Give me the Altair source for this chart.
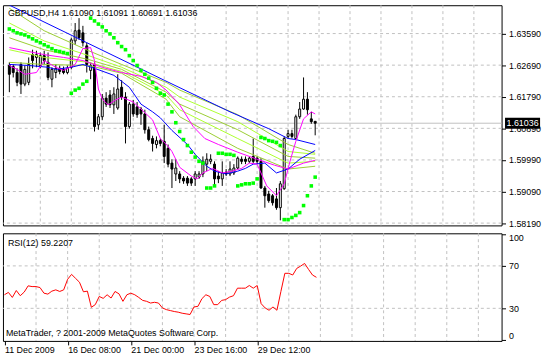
import altair as alt
import pandas as pd

# ---------------- data ----------------
symbol = "GBPUSD,H4"
bars = list(range(80))
opens = [1.6268, 1.6265, 1.6248, 1.6271, 1.6215, 1.6220, 1.6299, 1.6291, 1.6268, 1.6296,
         1.6277, 1.6229, 1.6248, 1.6260, 1.6257, 1.6248, 1.6263, 1.6338, 1.6369, 1.6361,
         1.6324, 1.6254, 1.6271, 1.6099, 1.6122, 1.6175, 1.6184, 1.6156, 1.6147, 1.6206,
         1.6178, 1.6094, 1.6158, 1.6150, 1.6144, 1.6130, 1.6085, 1.6060, 1.6043, 1.6054,
         1.6052, 1.6032, 1.5990, 1.5959, 1.5959, 1.5947, 1.5947, 1.5945, 1.5945, 1.5950,
         1.5959, 1.5987, 1.5995, 1.5987, 1.5953, 1.5945, 1.5964, 1.5959, 1.5962, 1.5976,
         1.6001, 1.6001, 1.5995, 1.6009, 1.6004, 1.5995, 1.5919, 1.5902, 1.5897, 1.5888,
         1.5863, 1.5917, 1.6066, 1.6074, 1.6060, 1.6122, 1.6144, 1.6172, 1.6116, 1.61090]
highs = [1.6277, 1.6271, 1.6260, 1.6277, 1.6268, 1.6291, 1.6313, 1.6310, 1.6305, 1.6310,
         1.6305, 1.6263, 1.6271, 1.6268, 1.6265, 1.6268, 1.6347, 1.6389, 1.6403, 1.6381,
         1.6333, 1.6277, 1.6277, 1.6130, 1.6187, 1.6192, 1.6198, 1.6206, 1.6243, 1.6226,
         1.6192, 1.6164, 1.6170, 1.6164, 1.6150, 1.6142, 1.6094, 1.6068, 1.6066, 1.6060,
         1.6099, 1.6043, 1.6001, 1.6001, 1.5967, 1.5953, 1.5953, 1.5950, 1.5967, 1.5967,
         1.6009, 1.6018, 1.6015, 1.5995, 1.5967, 1.5995, 1.5973, 1.5995, 1.5987, 1.6009,
         1.6009, 1.6009, 1.6009, 1.6060, 1.6009, 1.6004, 1.5925, 1.5911, 1.5902, 1.5919,
         1.5939, 1.6066, 1.6085, 1.6085, 1.6128, 1.6164, 1.6234, 1.6192, 1.6136, 1.61091]
lows = [1.6192, 1.6234, 1.6209, 1.6187, 1.6209, 1.6212, 1.6260, 1.6263, 1.6260, 1.6271,
        1.6226, 1.6206, 1.6232, 1.6243, 1.6243, 1.6243, 1.6257, 1.6327, 1.6341, 1.6322,
        1.6248, 1.6229, 1.6080, 1.6085, 1.6113, 1.6150, 1.6147, 1.6130, 1.6142, 1.6170,
        1.6046, 1.6088, 1.6122, 1.6119, 1.6099, 1.6074, 1.6052, 1.6023, 1.6032, 1.6038,
        1.5990, 1.5978, 1.5919, 1.5939, 1.5933, 1.5931, 1.5925, 1.5925, 1.5925, 1.5945,
        1.5950, 1.5967, 1.5987, 1.5925, 1.5933, 1.5925, 1.5953, 1.5953, 1.5956, 1.5973,
        1.5987, 1.5987, 1.5990, 1.5990, 1.5987, 1.5917, 1.5863, 1.5877, 1.5869, 1.5857,
        1.5827, 1.5914, 1.6060, 1.6060, 1.6057, 1.6116, 1.6142, 1.6128, 1.6102, 1.60691]
closes = [1.6243, 1.6248, 1.6220, 1.6215, 1.6257, 1.6271, 1.6282, 1.6299, 1.6296, 1.6282,
          1.6234, 1.6257, 1.6260, 1.6251, 1.6248, 1.6260, 1.6341, 1.6367, 1.6347, 1.6333,
          1.6271, 1.6268, 1.6094, 1.6122, 1.6175, 1.6158, 1.6156, 1.6187, 1.6201, 1.6178,
          1.6094, 1.6158, 1.6130, 1.6128, 1.6130, 1.6085, 1.6057, 1.6046, 1.6054, 1.6046,
          1.6009, 1.5987, 1.5973, 1.5976, 1.5945, 1.5939, 1.5933, 1.5933, 1.5959, 1.5959,
          1.5995, 1.6001, 1.6001, 1.5945, 1.5945, 1.5962, 1.5959, 1.5973, 1.5976, 1.6004,
          1.5995, 1.5995, 1.6004, 1.5995, 1.5995, 1.5919, 1.5897, 1.5883, 1.5877, 1.5863,
          1.5931, 1.6060, 1.6074, 1.6066, 1.6122, 1.6144, 1.6172, 1.6142, 1.6108, 1.61036]
sar = [1.6372, 1.6367, 1.6361, 1.6358, 1.6355, 1.6350, 1.6344, 1.6338, 1.6333, 1.6327,
       1.6322, 1.6316, 1.6310, 1.6308, 1.6305, 1.6302,
       1.6189, 1.6198, 1.6203, 1.6215, 1.6223,
       1.6403, 1.6395, 1.6386, 1.6378, 1.6367, 1.6358, 1.6347, 1.6333, 1.6322, 1.6313,
       1.6296, 1.6282, 1.6268, 1.6254, 1.6243, 1.6232, 1.6220, 1.6203, 1.6189, 1.6184,
       1.6158, 1.6136, 1.6105, 1.6080, 1.6057, 1.6040, 1.6021, 1.6007, 1.5995, 1.5990,
       1.5919, 1.5919, 1.5925,
       1.6018, 1.6018, 1.6015, 1.6015, 1.6012,
       1.5925, 1.5928, 1.5931, 1.5931, 1.5933, 1.5945,
       1.6063, 1.6060, 1.6054, 1.6052, 1.6049, 1.6040,
       1.5829, 1.5829, 1.5835, 1.5841, 1.5849, 1.5869, 1.5897, 1.5925, 1.5950]
rsi = [42.8, 45.0, 40.3, 46.8, 41.9, 45.3, 51.2, 50.5, 50.5, 49.6,
       44.3, 43.4, 46.2, 47.4, 45.9, 47.4, 57.4, 62.0, 58.3, 54.6,
       45.6, 46.2, 31.0, 33.5, 41.2, 39.4, 42.8, 39.7, 45.9, 43.7,
       36.6, 42.8, 44.3, 42.8, 40.3, 37.5, 36.6, 35.0, 35.7, 35.0,
       30.4, 28.8, 27.9, 27.0, 26.4, 25.4, 24.8, 24.2, 31.3, 31.9,
       39.1, 42.8, 41.2, 33.5, 33.5, 37.5, 38.2, 40.6, 41.9, 49.0,
       49.0, 49.0, 51.5, 49.0, 51.5, 34.4, 30.4, 28.2, 31.3, 28.2,
       45.9, 63.0, 63.0, 61.4, 67.6, 69.8, 72.3, 66.7, 61.4, 59.2207]

blue_slow_bars = [0, 20, 40, 57, 67, 72, 74, 79]
blue_slow = [1.6440, 1.6333, 1.6226, 1.6136, 1.6088, 1.6060, 1.6057, 1.6043]
blue_fast_bars = [0, 5, 10, 12, 16, 19, 22, 27, 31, 34, 37, 39, 42, 46, 48, 51, 53, 56,
                  59, 61, 63, 66, 69, 72, 75, 79]
blue_fast = [1.6271, 1.6268, 1.6263, 1.6257, 1.6263, 1.6271, 1.6260, 1.6240, 1.6206, 1.6158,
             1.6136, 1.6119, 1.6083, 1.6043, 1.6015, 1.5981, 1.5967, 1.5959, 1.5967, 1.5975,
             1.5987, 1.5990, 1.5962, 1.5973, 1.6001, 1.6026]
magenta_fast_bars = [0, 2, 4, 7, 9, 12, 14, 17, 19, 21, 22, 23, 24, 25.5, 27.5, 29, 32, 34,
                     37, 39, 41, 42, 44, 47, 48.5, 50, 52.5, 55, 57.5, 60, 62, 64, 66.5, 69,
                     71, 72.5, 74, 76, 78, 79]
magenta_fast = [1.6268, 1.6257, 1.6243, 1.6248, 1.6282, 1.6263, 1.6254, 1.6271, 1.6316, 1.6319,
                1.6282, 1.6201, 1.6172, 1.6156, 1.6170, 1.6178, 1.6164, 1.6144, 1.6113, 1.6060,
                1.6038, 1.6023, 1.5978, 1.5953, 1.5945, 1.5962, 1.5975, 1.5962, 1.5967, 1.5975,
                1.5990, 1.5987, 1.5925, 1.5897, 1.5931, 1.5995, 1.6052, 1.6116, 1.6136, 1.6130]
magenta_slow_bars = [0, 4, 9, 14, 19, 24, 29, 34, 38, 40.5, 44, 47.5, 50.5, 54, 59, 64,
                     68.5, 72, 76, 79]
magenta_slow = [1.6319, 1.6310, 1.6299, 1.6291, 1.6282, 1.6263, 1.6248, 1.6237, 1.6220, 1.6198,
                1.6156, 1.6094, 1.6060, 1.6043, 1.6021, 1.6001, 1.5984, 1.5973, 1.5990, 1.5998]
fan_bars = [0, 9, 20.5, 29, 40.5, 44, 59, 72, 79]
fan_1 = [1.6431, 1.6367, 1.6310, 1.6271, 1.6220, 1.6198, 1.6128, 1.6043, 1.6018]
fan_2 = [1.6389, 1.6338, 1.6296, 1.6263, 1.6206, 1.6178, 1.6108, 1.6023, 1.6015]
fan_3 = [1.6347, 1.6313, 1.6285, 1.6257, 1.6192, 1.6158, 1.6085, 1.6009, 1.6004]
fan_4 = [1.6313, 1.6291, 1.6277, 1.6251, 1.6184, 1.6142, 1.6060, 1.5990, 1.5995]
fan_5 = [1.6277, 1.6271, 1.6268, 1.6246, 1.6172, 1.6122, 1.6032, 1.5973, 1.5981]

price_ticks = [1.63590, 1.62690, 1.61790, 1.60890, 1.59990, 1.59090, 1.58190]
rsi_ticks = [0, 30, 70, 100]
rsi_levels = [30, 70]
grid_bars = list(range(8, 121, 8))
time_tick_bars = [0, 16, 32, 48, 64]
time_labels = ["11 Dec 2009", "16 Dec 08:00", "21 Dec 00:00", "23 Dec 16:00", "29 Dec 12:00"]
rsi_name = "RSI(12)"
copyright_text = "MetaTrader, ? 2001-2009 MetaQuotes Software Corp."

# ---------------- layout ----------------
W = 505
H1 = 223
H2 = 109
FONT = "Liberation Sans"
GRID = "#C0C0C0"

xscale = alt.Scale(domain=[-0.375, -0.375 + W / 4], nice=False, zero=False)
yscale = alt.Scale(domain=[1.58125, 1.64397], nice=False, zero=False)
rscale = alt.Scale(domain=[-0.7, 100.7], nice=False, zero=False)

candles = pd.DataFrame(dict(bar=bars, open=opens, high=highs, low=lows,
                            close=closes, sar=sar, rsi=rsi))

series = [
    ("fan1", fan_bars, fan_1, "#9ACD32"),
    ("fan2", fan_bars, fan_2, "#ADFF2F"),
    ("fan3", fan_bars, fan_3, "#9ACD32"),
    ("fan4", fan_bars, fan_4, "#ADFF2F"),
    ("fan5", fan_bars, fan_5, "#9ACD32"),
    ("mslow", magenta_slow_bars, magenta_slow, "#FF00FF"),
    ("bslow", blue_slow_bars, blue_slow, "#0000FF"),
    ("bfast", blue_fast_bars, blue_fast, "#0000FF"),
    ("mfast", magenta_fast_bars, magenta_fast, "#FF00FF"),
]
rows = []
for name, bx, vals, _ in series:
    for b, v in zip(bx, vals):
        rows.append({"series": name, "bar": b, "value": v})
lines_df = pd.DataFrame(rows)

yaxis_main = alt.Axis(orient="right", values=price_ticks, format=".5f", tickSize=4,
                      tickColor="black", labelColor="black", labelFont=FONT,
                      labelFontSize=9, labelPadding=3, domain=False, grid=False,
                      title=None, labelOverlap=False)


def YM(field):
    return alt.Y(field, type="quantitative", scale=yscale, axis=yaxis_main)


XM = alt.X("bar:Q", scale=xscale, axis=None)

vgrid_main = alt.Chart(pd.DataFrame({"bar": grid_bars})).mark_rule(
    color=GRID, strokeDash=[3, 3], strokeWidth=1).encode(x=XM)
hgrid_main = alt.Chart(pd.DataFrame({"price": price_ticks})).mark_rule(
    color=GRID, strokeDash=[3, 3], strokeWidth=1).encode(y=YM("price"))
cur_line = alt.Chart(pd.DataFrame({"price": [closes[-1]]})).mark_rule(
    color=GRID, strokeWidth=1).encode(y=YM("price"))

wicks = alt.Chart(candles).mark_rule(color="black", strokeWidth=1).encode(
    x=XM, y=YM("low"), y2="high")
bodies = alt.Chart(candles).mark_bar(size=2, stroke="black", strokeWidth=1).encode(
    x=XM, y=YM("open"), y2="close",
    fill=alt.condition(alt.datum.close >= alt.datum.open, alt.value("white"), alt.value("black")))

ind_lines = alt.Chart(lines_df).mark_line(strokeWidth=1, clip=True).encode(
    x=XM, y=YM("value"),
    color=alt.Color("series:N", scale=alt.Scale(domain=[s[0] for s in series],
                                                range=[s[3] for s in series]), legend=None),
    order=alt.Order("bar:Q"))

sar_pts = alt.Chart(candles).mark_square(size=13, color="#00FF00", opacity=1).encode(
    x=XM, y=YM("sar"))

title_str = "%s  %.5f %.5f %.5f %.5f" % (symbol, opens[-1], highs[-1], lows[-1], closes[-1])
title_txt = alt.Chart(pd.DataFrame({"t": [title_str]})).mark_text(
    align="left", baseline="middle", font=FONT, fontSize=9, color="black").encode(
    x=alt.value(5), y=alt.value(8), text="t:N")

box_df = pd.DataFrame({"price": [closes[-1]], "label": ["%.5f" % closes[-1]]})
price_box = alt.Chart(box_df).mark_rule(color="black", strokeWidth=11, strokeCap="butt").encode(
    x=alt.value(W + 3.5), x2=alt.value(W + 39), y=YM("price"))
price_txt = alt.Chart(box_df).mark_text(
    align="left", baseline="middle", font=FONT, fontSize=9, color="white").encode(
    x=alt.value(W + 5), y=YM("price"), text="label:N")

main = alt.layer(vgrid_main, hgrid_main, cur_line, wicks, bodies, ind_lines, sar_pts,
                 title_txt, price_box, price_txt).properties(width=W, height=H1)

# ---------------- RSI panel ----------------
label_expr = "".join("datum.value == %d ? '%s' : " % (b, t)
                     for b, t in zip(time_tick_bars, time_labels)) + "''"
xaxis_rsi = alt.Axis(orient="bottom", values=time_tick_bars, labelExpr=label_expr,
                     labelAlign="left", labelBaseline="top", labelPadding=1, tickSize=4,
                     tickColor="black", labelColor="black", labelFont=FONT, labelFontSize=9,
                     domain=False, grid=False, labelFlush=False, labelOverlap=False, title=None)
yaxis_rsi = alt.Axis(orient="right", values=rsi_ticks, format="d", tickSize=4,
                     tickColor="black", labelColor="black", labelFont=FONT, labelFontSize=9,
                     labelPadding=3, domain=False, grid=False, labelFlush=2,
                     labelOverlap=False, title=None)

XR = alt.X("bar:Q", scale=xscale, axis=xaxis_rsi)


def YR(field):
    return alt.Y(field, type="quantitative", scale=rscale, axis=yaxis_rsi)


vgrid_rsi = alt.Chart(pd.DataFrame({"bar": grid_bars})).mark_rule(
    color=GRID, strokeDash=[3, 3], strokeWidth=1).encode(x=XR)
hgrid_rsi = alt.Chart(pd.DataFrame({"lvl": rsi_levels})).mark_rule(
    color=GRID, strokeDash=[3, 3], strokeWidth=1).encode(y=YR("lvl"))
rsi_line = alt.Chart(candles).mark_line(color="#FF0000", strokeWidth=1).encode(
    x=XR, y=YR("rsi"))
rsi_txt = alt.Chart(pd.DataFrame({"t": ["%s %.4f" % (rsi_name, rsi[-1])]})).mark_text(
    align="left", baseline="middle", font=FONT, fontSize=9, color="black").encode(
    x=alt.value(5), y=alt.value(10), text="t:N")
copy_txt = alt.Chart(pd.DataFrame({"t": [copyright_text]})).mark_text(
    align="left", baseline="middle", font=FONT, fontSize=9, color="black").encode(
    x=alt.value(3), y=alt.value(101), text="t:N")

rsi_panel = alt.layer(vgrid_rsi, hgrid_rsi, rsi_line, rsi_txt, copy_txt).properties(
    width=W, height=H2)

chart = alt.vconcat(main, rsi_panel, spacing=3).properties(
    padding={"left": 2, "top": 2, "right": 0, "bottom": 0},
    background="white",
).configure_view(stroke="black", strokeWidth=1)

chart.save("out.html", embed_options={"renderer": "svg", "actions": False})
